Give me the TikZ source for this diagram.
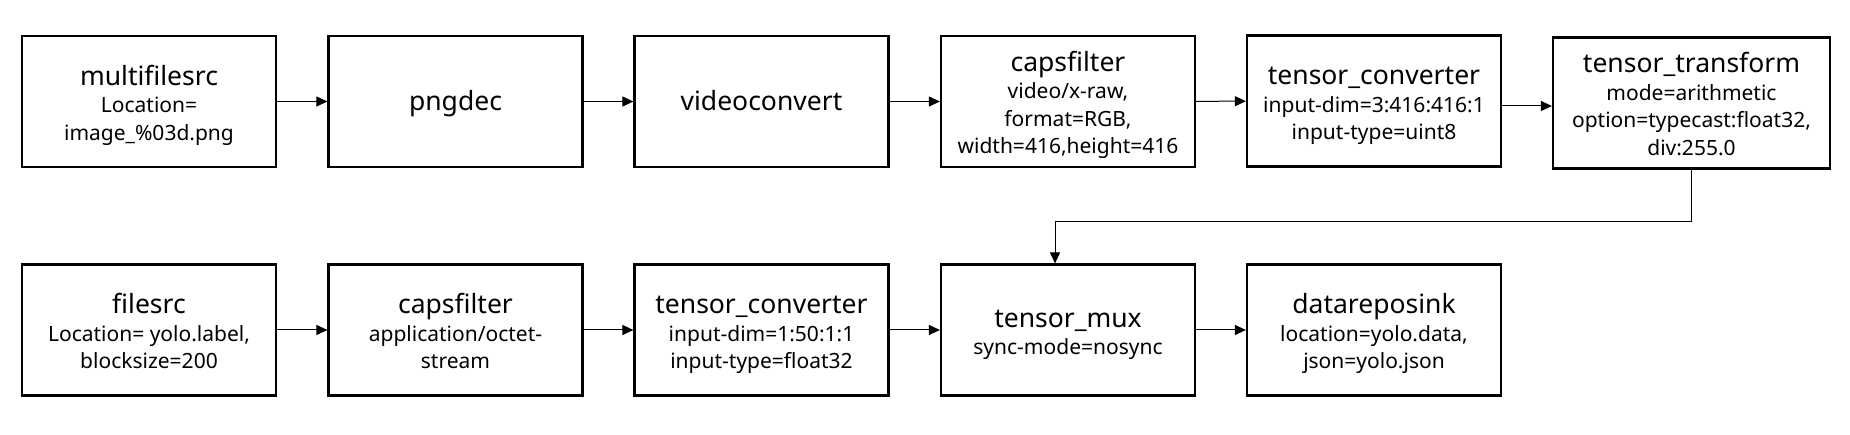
\documentclass[tikz,border=0pt]{standalone}
\usepackage{fontspec}
\setmainfont{Noto Sans}
\usetikzlibrary{arrows.meta}
\newcommand{\elname}[2][29pt]{{\fontsize{26.5}{27.5}\selectfont\rule{0pt}{#1}#2}}
\begin{document}
\begin{tikzpicture}[x=1pt, y=-1pt,
    block/.style={draw, line width=2.2pt, minimum width=254pt, minimum height=131pt,
      align=center, inner sep=2pt, font=\fontsize{21}{27.5}\selectfont,
      execute at end node={\rule[-6.5pt]{0pt}{6.5pt}}},
    link/.style={-{Triangle[length=11pt,width=10pt]}, line width=1pt}]
  \useasboundingbox (0,0) rectangle (1850,435);
  % first row
  \node [block] (msrc) at (149, 101.5) {\elname{multifilesrc}\\Location=\\image\_\%03d.png};
  \node [block] (png) at (455.5, 101.5) {\elname[25pt]{pngdec}};
  \node [block] (vconv) at (761.5, 101.5) {\elname[25pt]{videoconvert}};
  \node [block] (caps1) at (1068, 101.5) {\elname{capsfilter}\\video/x-raw,\\format=RGB,\\width=416,height=416};
  \node [block] (tconv1) at (1374, 101) {\elname{tensor\_converter}\\input-dim=3:416:416:1\\input-type=uint8};
  \node [block, minimum width=277pt] (ttrans) at (1691.5, 103) {\elname{tensor\_transform}\\mode=arithmetic\\option=typecast:float32,\\div:255.0};
  \draw [link] (msrc) -- (png);
  \draw [link] (png) -- (vconv);
  \draw [link] (vconv) -- (caps1);
  \draw [link] (caps1) -- (tconv1);
  \draw [link] ([yshift=-5pt]tconv1.east) -- ([yshift=-5pt]tconv1.east -| ttrans.west);
  % second row
  \node [block] (fsrc) at (149, 330) {\elname{filesrc}\\Location= yolo.label,\\blocksize=200};
  \node [block] (caps2) at (455.5, 330) {\elname{capsfilter}\\application/octet-\\stream};
  \node [block] (tconv2) at (761.5, 330) {\elname{tensor\_converter}\\input-dim=1:50:1:1\\input-type=float32};
  \node [block] (mux) at (1068, 330) {\elname{tensor\_mux}\\sync-mode=nosync};
  \node [block] (sink) at (1374, 330) {\elname{datareposink}\\location=yolo.data,\\json=yolo.json};
  \draw [link] (fsrc) -- (caps2);
  \draw [link] (caps2) -- (tconv2);
  \draw [link] (tconv2) -- (mux);
  \draw [link] (mux) -- (sink);
  % back to the mux
  \coordinate (turn) at (1055, 222);
  \draw [link] (ttrans.south) |- (turn) -- (turn |- mux.north);
\end{tikzpicture}
\end{document}
